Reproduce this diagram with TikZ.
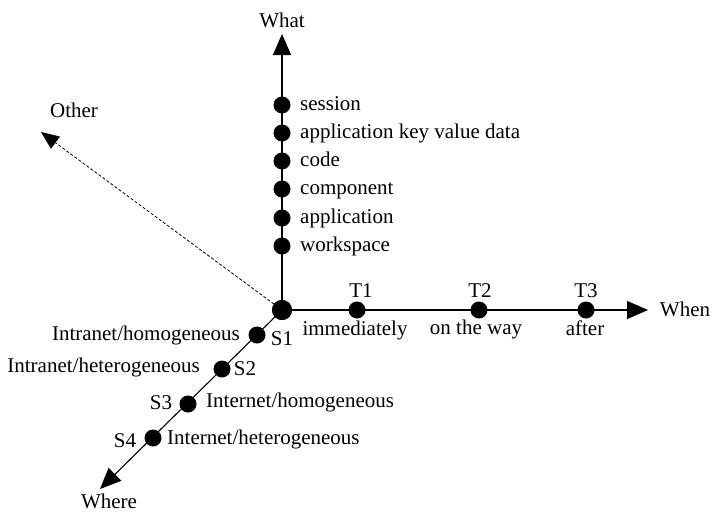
\documentclass[tikz,border=0pt]{standalone}
\usepackage{fontspec}
\setmainfont{Liberation Serif}
\usetikzlibrary{arrows.meta}
\begin{document}
\begin{tikzpicture}[x=1pt,y=-1pt,
  dot/.style={circle,fill=black,inner sep=0pt,minimum size=17pt},
  bigdot/.style={circle,fill=black,inner sep=0pt,minimum size=20pt},
  lbl/.style={inner sep=0pt,font=\fontsize{21}{24}\selectfont,yshift=-3pt},
  axis/.style={line width=1.1pt,-{Triangle[width=18pt,length=21pt]}},
  dax/.style={line width=0.8pt,dash pattern=on 3pt off 2pt,-{Triangle[width=15pt,length=18pt]}}]
\useasboundingbox (0,0) rectangle (711,514);
% origin
\node[bigdot] (O) at (282,310) {};
% tips
\coordinate (whatTip) at (282,34);
\coordinate (whenTip) at (648,310);
\coordinate (whereTip) at (100,489);
\coordinate (otherTip) at (41,132);
\draw[axis] (O.center) -- (whatTip);
\draw[axis] (O.center) -- (whenTip);
\draw[axis] (O.center) -- (whereTip);
\draw[dax] (O.center) -- (otherTip);
\node[bigdot] at (O) {};
% axis labels
\node[lbl,anchor=mid] (lWhat) at (282,22) {What};
\node[lbl,anchor=mid] (lWhen) at (685,311) {When};
\node[lbl,anchor=mid] (lWhere) at (109,503.5) {Where};
\node[lbl,anchor=mid] (lOther) at (74,112) {Other};
% What dots
\node[dot] (w1) at (282,105) {};
\node[dot] (w2) at (282,133) {};
\node[dot] (w3) at (282,161) {};
\node[dot] (w4) at (282,189) {};
\node[dot] (w5) at (282,218) {};
\node[dot] (w6) at (282,246) {};
\node[lbl,anchor=mid west] (lw1) at (300,105) {session};
\node[lbl,anchor=mid west] (lw2) at (300,133) {application key value data};
\node[lbl,anchor=mid west] (lw3) at (300,161) {code};
\node[lbl,anchor=mid west] (lw4) at (300,189) {component};
\node[lbl,anchor=mid west] (lw5) at (300,218) {application};
\node[lbl,anchor=mid west] (lw6) at (300,246) {workspace};
% When dots
\node[dot] (t1) at (357,310) {};
\node[dot] (t2) at (479,310) {};
\node[dot] (t3) at (586,310) {};
\node[lbl,anchor=mid] (lt1) at (361,292) {T1};
\node[lbl,anchor=mid] (lt2) at (480,292) {T2};
\node[lbl,anchor=mid] (lt3) at (586,292) {T3};
\node[lbl,anchor=mid] (lt1b) at (355,330) {immediately};
\node[lbl,anchor=mid] (lt2b) at (476,329) {on the way};
\node[lbl,anchor=mid] (lt3b) at (585,330) {after};
% Where dots
\node[dot] (s1) at (257,335) {};
\node[dot] (s2) at (222,369) {};
\node[dot] (s3) at (188,404) {};
\node[dot] (s4) at (153,438) {};
\node[lbl,anchor=mid] (ls1) at (282,340) {S1};
\node[lbl,anchor=mid] (ls2) at (245,370) {S2};
\node[lbl,anchor=mid] (ls3) at (161,404) {S3};
\node[lbl,anchor=mid] (ls4) at (125,442) {S4};
\node[lbl,anchor=mid east] (ls1b) at (240,335) {Intranet/homogeneous};
\node[lbl,anchor=mid east] (ls2b) at (200,367) {Intranet/heterogeneous};
\node[lbl,anchor=mid west] (ls3b) at (206,402) {Internet/homogeneous};
\node[lbl,anchor=mid west] (ls4b) at (167,439) {Internet/heterogeneous};
\end{tikzpicture}
\end{document}
